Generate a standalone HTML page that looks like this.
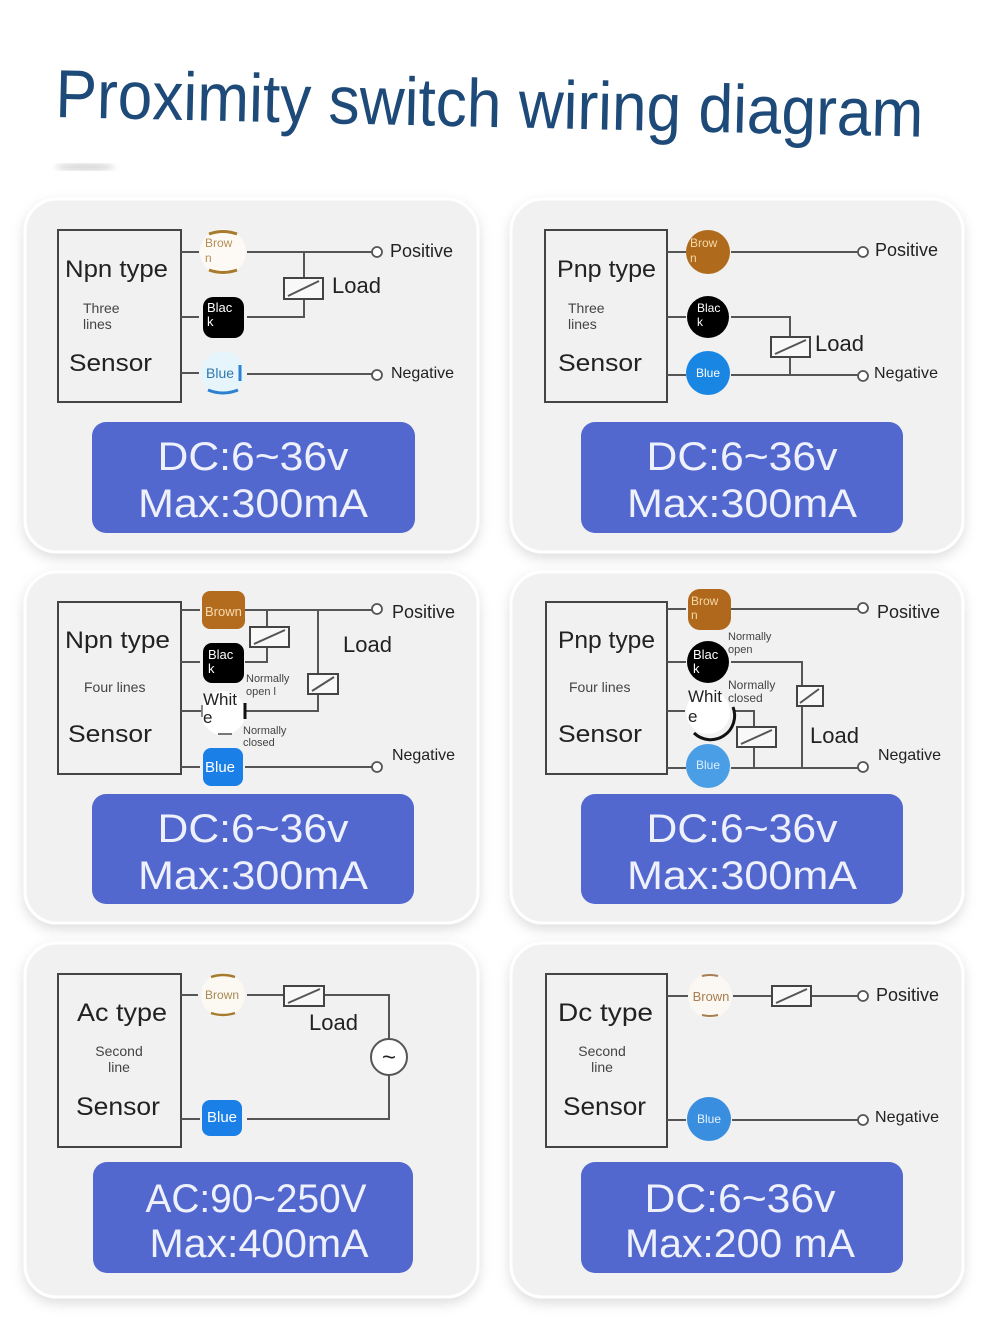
<!DOCTYPE html>
<html><head><meta charset="utf-8"><style>
html,body{margin:0;padding:0;background:#fff;}
svg{display:block;}
text{font-family:"Liberation Sans",sans-serif;}
.w{stroke:#555;stroke-width:2;fill:none;}
.bx{stroke:#444;stroke-width:2;fill:none;}
.ld{stroke:#444;stroke-width:2;fill:#f8f8f8;}
.tm{fill:#fff;stroke:#555;stroke-width:1.8;}
.lb{fill:#222;}
.sm{fill:#444;}
.bt{fill:#eef1fb;text-anchor:middle;font-size:40px;}
</style></head><body>
<svg width="990" height="1340" viewBox="0 0 990 1340" xmlns="http://www.w3.org/2000/svg">
<defs>
<filter id="sh" x="-10%" y="-10%" width="120%" height="125%">
<feDropShadow dx="0" dy="5" stdDeviation="6" flood-color="#000" flood-opacity="0.13"/>
</filter>
<filter id="bl"><feGaussianBlur stdDeviation="3"/></filter>
</defs>

<!-- Title -->
<text x="55" y="117" font-size="68" fill="#1d4a78" textLength="868" lengthAdjust="spacingAndGlyphs" transform="rotate(1.3 55 117)">Proximity switch wiring diagram</text>
<ellipse cx="85" cy="167" rx="30" ry="3" fill="#cfcfcf" filter="url(#bl)"/>

<!-- Panels -->
<rect x="25" y="199" width="453" height="353" rx="32" fill="#f1f1f1" stroke="#fff" stroke-width="3" filter="url(#sh)"/>
<rect x="511" y="199" width="452" height="353" rx="32" fill="#f1f1f1" stroke="#fff" stroke-width="3" filter="url(#sh)"/>
<rect x="25" y="572" width="453" height="351" rx="32" fill="#f1f1f1" stroke="#fff" stroke-width="3" filter="url(#sh)"/>
<rect x="511" y="572" width="452" height="351" rx="32" fill="#f1f1f1" stroke="#fff" stroke-width="3" filter="url(#sh)"/>
<rect x="25" y="943" width="453" height="354" rx="32" fill="#f1f1f1" stroke="#fff" stroke-width="3" filter="url(#sh)"/>
<rect x="511" y="943" width="452" height="354" rx="32" fill="#f1f1f1" stroke="#fff" stroke-width="3" filter="url(#sh)"/>

<!-- Blue boxes -->
<rect x="92" y="422" width="323" height="111" rx="14" fill="#5268cf"/>
<text class="bt" x="253" y="470" textLength="191" lengthAdjust="spacingAndGlyphs">DC:6~36v</text>
<text class="bt" x="253" y="517" textLength="230" lengthAdjust="spacingAndGlyphs">Max:300mA</text>

<rect x="581" y="422" width="322" height="111" rx="14" fill="#5268cf"/>
<text class="bt" x="742" y="470" textLength="191" lengthAdjust="spacingAndGlyphs">DC:6~36v</text>
<text class="bt" x="742" y="517" textLength="230" lengthAdjust="spacingAndGlyphs">Max:300mA</text>

<rect x="92" y="794" width="322" height="110" rx="14" fill="#5268cf"/>
<text class="bt" x="253" y="842" textLength="191" lengthAdjust="spacingAndGlyphs">DC:6~36v</text>
<text class="bt" x="253" y="889" textLength="230" lengthAdjust="spacingAndGlyphs">Max:300mA</text>

<rect x="581" y="794" width="322" height="110" rx="14" fill="#5268cf"/>
<text class="bt" x="742" y="842" textLength="191" lengthAdjust="spacingAndGlyphs">DC:6~36v</text>
<text class="bt" x="742" y="889" textLength="230" lengthAdjust="spacingAndGlyphs">Max:300mA</text>

<rect x="93" y="1162" width="320" height="111" rx="14" fill="#5268cf"/>
<text class="bt" x="256" y="1212" textLength="221" lengthAdjust="spacingAndGlyphs">AC:90~250V</text>
<text class="bt" x="259" y="1257" textLength="219" lengthAdjust="spacingAndGlyphs">Max:400mA</text>

<rect x="581" y="1162" width="322" height="111" rx="14" fill="#5268cf"/>
<text class="bt" x="740" y="1212" textLength="191" lengthAdjust="spacingAndGlyphs">DC:6~36v</text>
<text class="bt" x="740" y="1257" textLength="230" lengthAdjust="spacingAndGlyphs">Max:200 mA</text>

<!-- ===== Panel 1: NPN three lines ===== -->
<rect class="bx" x="58" y="230" width="123" height="172"/>
<text class="lb" x="65" y="277" font-size="24" textLength="103" lengthAdjust="spacingAndGlyphs">Npn type</text>
<text class="sm" x="83" y="313" font-size="14">Three</text>
<text class="sm" x="83" y="329" font-size="14">lines</text>
<text class="lb" x="69" y="371" font-size="24" textLength="83" lengthAdjust="spacingAndGlyphs">Sensor</text>
<path class="w" d="M181 252H199 M247 252H372 M304 252V278 M304 299V317H247 M181 317H199 M181 373H199 M247 374H372"/>
<rect class="ld" x="284" y="278" width="39" height="21"/>
<path class="w" d="M288 296L319 281"/>
<circle class="tm" cx="377" cy="252" r="5"/>
<circle class="tm" cx="377" cy="375" r="5"/>
<text class="lb" x="390" y="257" font-size="18">Positive</text>
<text class="lb" x="332" y="293" font-size="22">Load</text>
<text class="lb" x="391" y="378" font-size="16" textLength="63">Negative</text>
<!-- blobs -->
<circle cx="223" cy="252" r="23" fill="#fdfaf5"/>
<path d="M209 234Q223 229 237 234 M209 270Q223 275 237 270" stroke="#a77b2e" stroke-width="3" fill="none"/>
<text x="205" y="247" font-size="12" fill="#b58f55">Brow</text>
<text x="205" y="262" font-size="12" fill="#b58f55">n</text>
<rect x="203" y="297" width="41" height="41" rx="10" fill="#000"/>
<text x="207" y="312" font-size="13" fill="#fff">Blac</text>
<text x="207" y="326" font-size="13" fill="#fff">k</text>
<circle cx="223" cy="373" r="22" fill="#e6f5fb"/>
<path d="M208 390Q223 396 238 390 M240 365V381" stroke="#2d7fcf" stroke-width="3" fill="none"/>
<text x="206" y="378" font-size="14" fill="#2f78ad">Blue</text>

<!-- ===== Panel 2: PNP three lines ===== -->
<rect class="bx" x="545" y="230" width="122" height="172"/>
<text class="lb" x="557" y="277" font-size="24" textLength="99" lengthAdjust="spacingAndGlyphs">Pnp type</text>
<text class="sm" x="568" y="313" font-size="14">Three</text>
<text class="sm" x="568" y="329" font-size="14">lines</text>
<text class="lb" x="558" y="371" font-size="24" textLength="84" lengthAdjust="spacingAndGlyphs">Sensor</text>
<path class="w" d="M667 252H686 M731 252H858 M667 317H686 M731 317H790V337 M790 357V375 M667 375H686 M731 375H858"/>
<rect class="ld" x="771" y="337" width="39" height="20"/>
<path class="w" d="M775 354L806 340"/>
<circle class="tm" cx="863" cy="252" r="5"/>
<circle class="tm" cx="863" cy="376" r="5"/>
<text class="lb" x="875" y="256" font-size="18">Positive</text>
<text class="lb" x="815" y="351" font-size="22">Load</text>
<text class="lb" x="874" y="378" font-size="16" textLength="64">Negative</text>
<circle cx="708" cy="252" r="22" fill="#b06a1c"/>
<text x="690" y="247" font-size="12" fill="#f3d9a8">Brow</text>
<text x="690" y="262" font-size="12" fill="#f3d9a8">n</text>
<circle cx="708" cy="317" r="21" fill="#000"/>
<text x="697" y="312" font-size="12" fill="#fff">Blac</text>
<text x="697" y="326" font-size="12" fill="#fff">k</text>
<circle cx="708" cy="373" r="22" fill="#1a86e3"/>
<text x="696" y="377" font-size="12" fill="#fff">Blue</text>

<!-- ===== Panel 3: NPN four lines ===== -->
<rect class="bx" x="58" y="602" width="123" height="172"/>
<text class="lb" x="65" y="648" font-size="24" textLength="105" lengthAdjust="spacingAndGlyphs">Npn type</text>
<text class="sm" x="84" y="692" font-size="14">Four lines</text>
<text class="lb" x="68" y="742" font-size="24" textLength="84" lengthAdjust="spacingAndGlyphs">Sensor</text>
<path class="w" d="M181 610H200 M245 610H372 M267 610V627 M267 647V662H245 M181 662H200 M318 610V674 M318 694V711H243 M181 711H202 M181 767H200 M245 767H372"/>
<rect class="ld" x="250" y="627" width="39" height="20"/>
<path class="w" d="M254 644L285 630"/>
<rect class="ld" x="308" y="674" width="30" height="20"/>
<path class="w" d="M312 691L334 677"/>
<circle class="tm" cx="377" cy="609" r="5"/>
<circle class="tm" cx="377" cy="767" r="5"/>
<text class="lb" x="392" y="618" font-size="18">Positive</text>
<text class="lb" x="343" y="652" font-size="22">Load</text>
<text class="lb" x="392" y="760" font-size="16" textLength="63">Negative</text>
<text class="sm" x="246" y="682" font-size="11">Normally</text>
<text class="sm" x="246" y="695" font-size="11">open l</text>
<text class="sm" x="243" y="734" font-size="11">Normally</text>
<text class="sm" x="243" y="746" font-size="11">closed</text>
<rect x="202" y="591" width="43" height="38" rx="8" fill="#b36b1e"/>
<text x="205" y="616" font-size="13" fill="#f6dcb0">Brown</text>
<rect x="203" y="643" width="41" height="40" rx="9" fill="#000"/>
<text x="208" y="659" font-size="13" fill="#fff">Blac</text>
<text x="208" y="673" font-size="13" fill="#fff">k</text>
<circle cx="223" cy="713" r="22" fill="#fff"/>
<path d="M245 703V719" stroke="#111" stroke-width="3"/>
<path d="M202 705V717" stroke="#666" stroke-width="1.5"/>
<path d="M218 734H232" stroke="#777" stroke-width="2"/>
<text class="lb" x="203" y="705" font-size="17">Whit</text>
<text class="lb" x="203" y="723" font-size="17">e</text>
<rect x="203" y="748" width="40" height="38" rx="8" fill="#1a7fe6"/>
<text x="205" y="772" font-size="15" fill="#fff">Blue</text>

<!-- ===== Panel 4: PNP four lines ===== -->
<rect class="bx" x="546" y="602" width="121" height="172"/>
<text class="lb" x="558" y="648" font-size="24" textLength="97" lengthAdjust="spacingAndGlyphs">Pnp type</text>
<text class="sm" x="569" y="692" font-size="14">Four lines</text>
<text class="lb" x="558" y="742" font-size="24" textLength="84" lengthAdjust="spacingAndGlyphs">Sensor</text>
<path class="w" d="M667 609H686 M731 609H858 M667 662H686 M731 662H802V686 M802 706V768 M667 711H685 M735 711H754V727 M754 747V768 M667 768H686 M731 768H858"/>
<rect class="ld" x="797" y="686" width="26" height="20"/>
<path class="w" d="M800 703L819 689"/>
<rect class="ld" x="737" y="727" width="39" height="20"/>
<path class="w" d="M741 744L772 730"/>
<circle class="tm" cx="863" cy="608" r="5"/>
<circle class="tm" cx="863" cy="767" r="5"/>
<text class="lb" x="877" y="618" font-size="18">Positive</text>
<text class="lb" x="810" y="743" font-size="22">Load</text>
<text class="lb" x="878" y="760" font-size="16" textLength="63">Negative</text>
<text class="sm" x="728" y="640" font-size="11">Normally</text>
<text class="sm" x="728" y="653" font-size="11">open</text>
<text class="sm" x="728" y="689" font-size="12">Normally</text>
<text class="sm" x="728" y="702" font-size="12">closed</text>
<rect x="688" y="589" width="43" height="41" rx="12" fill="#b0681c"/>
<text x="691" y="605" font-size="12" fill="#f5d9a5">Brow</text>
<text x="691" y="619" font-size="12" fill="#f5d9a5">n</text>
<circle cx="708" cy="662" r="21" fill="#000"/>
<text x="693" y="659" font-size="13" fill="#fff">Blac</text>
<text x="693" y="673" font-size="13" fill="#fff">k</text>
<circle cx="708" cy="712" r="22" fill="#fff"/>
<path d="M733 707A24 24 0 0 1 694 733" stroke="#111" stroke-width="3" fill="none"/>
<text class="lb" x="688" y="702" font-size="17">Whit</text>
<text class="lb" x="688" y="722" font-size="17">e</text>
<circle cx="708" cy="766" r="22" fill="#4a9ee6"/>
<text x="696" y="769" font-size="12" fill="#dcefff">Blue</text>

<!-- ===== Panel 5: AC two line ===== -->
<rect class="bx" x="58" y="974" width="123" height="173"/>
<text class="lb" x="77" y="1021" font-size="25" textLength="90" lengthAdjust="spacingAndGlyphs">Ac type</text>
<text class="sm" x="119" y="1056" font-size="14" text-anchor="middle">Second</text>
<text class="sm" x="119" y="1072" font-size="14" text-anchor="middle">line</text>
<text class="lb" x="76" y="1115" font-size="25" textLength="84" lengthAdjust="spacingAndGlyphs">Sensor</text>
<path class="w" d="M181 995H198 M247 995H284 M324 995H389V1039 M389 1075V1119H247 M181 1119H200"/>
<rect class="ld" x="284" y="986" width="40" height="20"/>
<path class="w" d="M288 1003L320 989"/>
<circle cx="389" cy="1057" r="18" fill="#fff" stroke="#555" stroke-width="2"/>
<text x="389" y="1065" font-size="24" fill="#222" text-anchor="middle">~</text>
<text class="lb" x="309" y="1030" font-size="22">Load</text>
<circle cx="223" cy="995" r="22" fill="#fcf8f2"/>
<path d="M211 977Q223 973 235 977 M211 1013Q223 1017 235 1013" stroke="#a77b2e" stroke-width="2.5" fill="none"/>
<text x="222" y="999" font-size="12" fill="#a88a55" text-anchor="middle">Brown</text>
<rect x="202" y="1100" width="40" height="36" rx="8" fill="#1a7fe6"/>
<text x="222" y="1122" font-size="15" fill="#fff" text-anchor="middle">Blue</text>

<!-- ===== Panel 6: DC two line ===== -->
<rect class="bx" x="546" y="974" width="121" height="173"/>
<text class="lb" x="558" y="1021" font-size="25" textLength="95" lengthAdjust="spacingAndGlyphs">Dc type</text>
<text class="sm" x="602" y="1056" font-size="14" text-anchor="middle">Second</text>
<text class="sm" x="602" y="1072" font-size="14" text-anchor="middle">line</text>
<text class="lb" x="563" y="1115" font-size="25" textLength="83" lengthAdjust="spacingAndGlyphs">Sensor</text>
<path class="w" d="M667 996H688 M733 996H772 M811 996H858 M667 1120H686 M732 1120H858"/>
<rect class="ld" x="772" y="986" width="39" height="20"/>
<path class="w" d="M776 1003L807 989"/>
<circle class="tm" cx="863" cy="996" r="5"/>
<circle class="tm" cx="863" cy="1120" r="5"/>
<text class="lb" x="876" y="1001" font-size="18">Positive</text>
<text class="lb" x="875" y="1122" font-size="16" textLength="64">Negative</text>
<circle cx="710" cy="996" r="22" fill="#fbf8f4"/>
<path d="M702 976Q710 974 718 976 M702 1015Q710 1017 718 1015" stroke="#a87d50" stroke-width="2" fill="none"/>
<text x="711" y="1001" font-size="13" fill="#a87d50" text-anchor="middle">Brown</text>
<circle cx="709" cy="1119" r="22" fill="#3a8ee0"/>
<text x="709" y="1123" font-size="12" fill="#e5f2ff" text-anchor="middle">Blue</text>
</svg>
</body></html>
